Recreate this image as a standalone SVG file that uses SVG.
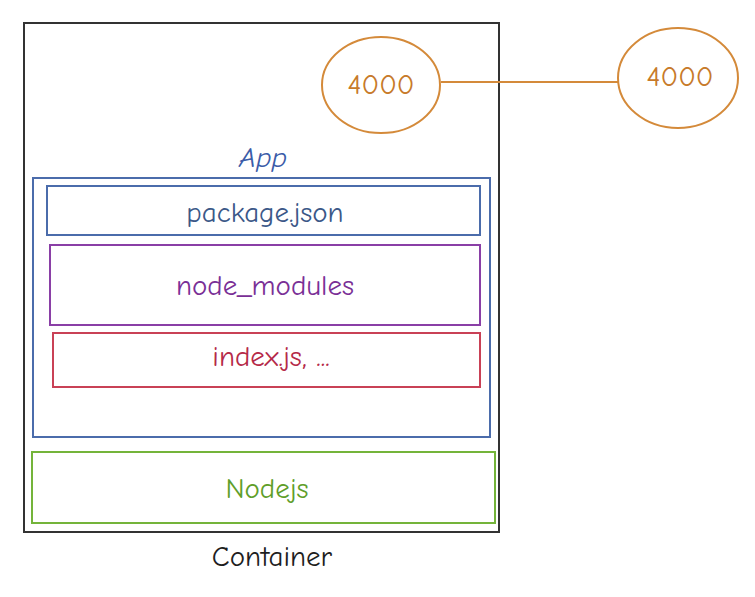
<svg xmlns="http://www.w3.org/2000/svg" width="755" height="597" viewBox="0 0 755 597">
<style>
text{font-family:"Comic Neue","Liberation Sans",sans-serif;font-size:29px;text-anchor:middle;dominant-baseline:central}
.box{fill:none;stroke-width:2}
</style>
<rect width="755" height="597" fill="#ffffff"/>
<g id="container">
<rect class="box" x="24" y="23" width="475" height="509" stroke="#333333"/>
<text x="272" y="556" fill="#1e1e1e" font-size="29">Container</text>
</g>
<g id="app">
<rect class="box" x="33" y="178" width="457" height="259" stroke="#4b6cab"/>
<text x="263" y="157" fill="#3b5ca8" font-style="italic" font-size="26">App</text>
</g>
<g id="package-json">
<rect class="box" x="47" y="186" width="433" height="49" stroke="#4b6cab"/>
<text x="265" y="212" fill="#3b5888" font-size="30">package.json</text>
</g>
<g id="node-modules">
<rect class="box" x="50" y="245" width="430" height="80" stroke="#8a3fa6"/>
<text x="265" y="285" fill="#7a2f96" font-size="30">node_modules</text>
</g>
<g id="index-js">
<rect class="box" x="53" y="333" width="427" height="54" stroke="#c94156"/>
<text x="271" y="356" fill="#b52a48" font-size="32">index.js, ...</text>
</g>
<g id="nodejs">
<rect class="box" x="32" y="452" width="463" height="71" stroke="#74b43a"/>
<text x="267" y="488" fill="#5f9e2a" font-size="30">Nodejs</text>
</g>
<g id="connectors">
<line x1="441" y1="82" x2="618" y2="82" stroke="#d48a3a" stroke-width="2"/>
</g>
<g id="port-inner">
<ellipse class="box" cx="381" cy="85" rx="59" ry="48" stroke="#d48a3a"/>
<text x="381" y="84" fill="#c77a2a" font-size="30">4000</text>
</g>
<g id="port-outer">
<ellipse class="box" cx="678" cy="78" rx="60" ry="50" stroke="#d48a3a"/>
<text x="680" y="76" fill="#c77a2a" font-size="30">4000</text>
</g>
</svg>
